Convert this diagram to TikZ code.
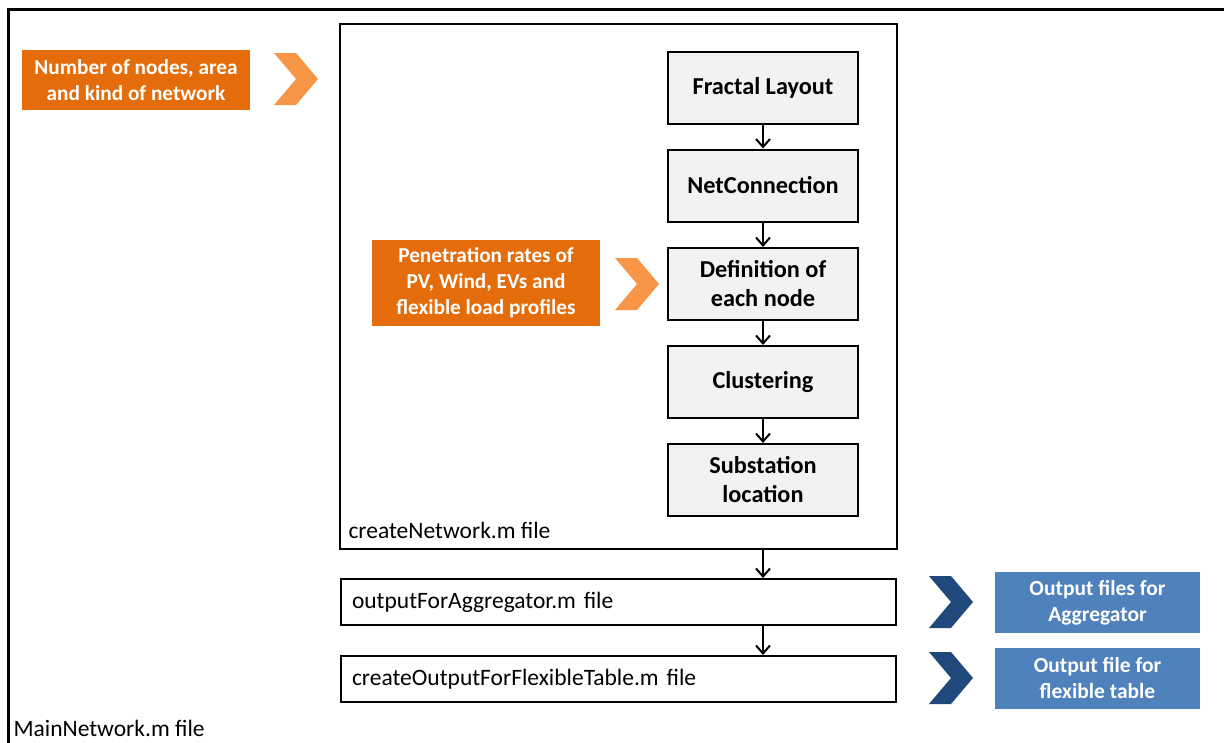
\documentclass[tikz,border=0pt]{standalone}
\usepackage{fontspec}
\setmainfont{Carlito}
\usetikzlibrary{arrows.meta}

\definecolor{inorange}{HTML}{E46C0A}
\definecolor{chorange}{HTML}{F79646}
\definecolor{outblue}{HTML}{4F81BD}
\definecolor{chblue}{HTML}{1F497D}
\definecolor{stepgray}{HTML}{F2F2F2}

% chevron: left x, top y, colour
\newcommand{\chevron}[3]{%
  \fill[#3] (#1,#2) -- ++(22,0) -- ++(22,26) -- ++(-22,26) -- ++(-22,0)
    -- ++(22,-26) -- cycle;}

\tikzset{
  stepbox/.style={draw, line width=2pt, fill=stepgray, minimum width=190pt,
    minimum height=72pt, align=center, font=\fontsize{24.3}{29}\selectfont\bfseries},
  filebox/.style={draw, line width=2pt, anchor=west, minimum height=46pt,
    text width=533pt, inner xsep=11pt, align=left, font=\fontsize{23.5}{26}\selectfont},
  inbox/.style={fill=inorange, text=white, align=center, minimum width=228pt,
    font=\fontsize{21.3}{26}\selectfont\bfseries},
  outbox/.style={fill=outblue, text=white, align=center, minimum width=205pt,
    minimum height=61pt, font=\fontsize{21.5}{26}\selectfont\bfseries},
  flow/.style={-{Straight Barb[length=8pt,width=14pt]}, line width=2pt},
}

\begin{document}
\begin{tikzpicture}[x=1pt, y=-1pt]

      \useasboundingbox (0,0) rectangle (1224,742);
      \clip (0,0) rectangle (1224,742);

      % frames
      \draw[line width=3pt] (8,9) rectangle (1240,760);
      \node[draw, line width=2pt, minimum width=557pt, minimum height=525pt]
        (net) at (618.5,286.5) {};
      \node[anchor=west, font=\fontsize{23.5}{26}\selectfont] (mainlbl) at (10,728) {MainNetwork.m file};
      \node[anchor=west, font=\fontsize{23.5}{26}\selectfont] (netlbl) at (345,530) {createNetwork.m file};

      \begin{scope}[every node/.style={stepbox}]
        \node (1) at (763,88)    {Fractal Layout};
        \node (2) at (763,185.5) {NetConnection};
        \node (3) at (763,284)   {Definition of\\each node};
        \node (4) at (763,382)   {Clustering};
        \node (5) at (763,480)   {Substation\\location};
      \end{scope}

      \begin{scope}[every node/.style={filebox}]
        \node (agg)  at (340,602) {outputForAggregator.m file};
        \node (flex) at (340,679) {createOutputForFlexibleTable.m file};
      \end{scope}

      % inputs
      \node[inbox, minimum height=60pt] (in1) at (136,80) {Number of nodes, area\\and kind of network};
      \node[inbox, minimum height=86pt] (in2) at (486,283) {Penetration rates of\\PV, Wind, EVs and\\flexible load profiles};
      \chevron{274}{53}{chorange}
      \chevron{615}{258}{chorange}

      % outputs
      \node[outbox] (out1) at (1097.5,602.5) {Output files for\\Aggregator};
      \node[outbox] (out2) at (1097.5,678.5) {Output file for\\flexible table};
      \chevron{929}{576}{chblue}
      \chevron{929}{652}{chblue}

      \begin{scope}[every path/.style={flow}]
        \draw (1) -- (2);
        \draw (2) -- (3);
        \draw (3) -- (4);
        \draw (4) -- (5);
        \draw (5.south |- net.south) -- (5.south |- agg.north);
        \draw (5.south |- agg.south) -- (5.south |- flex.north);
      \end{scope}

    \end{tikzpicture}
\end{document}
